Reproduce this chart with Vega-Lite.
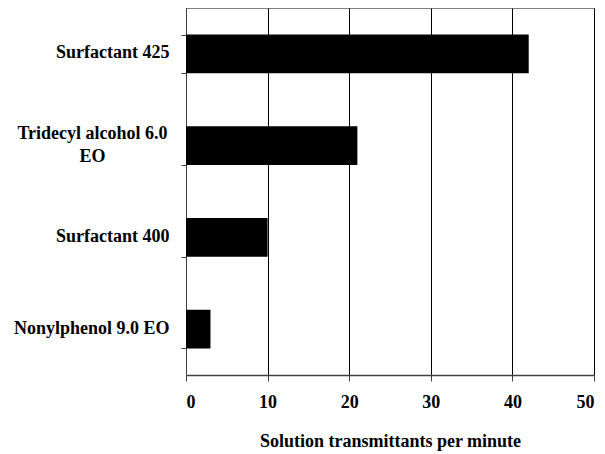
{
  "$schema": "https://vega.github.io/schema/vega-lite/v6.json",
  "width": 408,
  "height": 367,
  "autosize": "none",
  "padding": {"left": 186, "top": 8, "right": 11, "bottom": 79},
  "background": "white",
  "config": {
    "view": {"stroke": "#808080", "strokeWidth": 1},
    "font": "Liberation Serif"
  },
  "data": {
    "values": [
      {"surfactant": "Surfactant 425", "rate": 42},
      {"surfactant": "Tridecyl alcohol 6.0 EO", "rate": 21},
      {"surfactant": "Surfactant 400", "rate": 10},
      {"surfactant": "Nonylphenol 9.0 EO", "rate": 3}
    ]
  },
  "mark": {"type": "bar", "color": "black"},
  "encoding": {
    "y": {
      "field": "surfactant",
      "type": "nominal",
      "sort": null,
      "scale": {"paddingInner": 0.58, "paddingOuter": 0.29},
      "axis": {
        "title": null,
        "tickBand": "extent",
        "domainColor": "#404040",
        "tickColor": "#404040",
        "tickSize": 5,
        "labelFont": "Liberation Serif",
        "labelFontWeight": "bold",
        "labelFontSize": 18,
        "labelColor": "black",
        "labelLineHeight": 23,
        "labelLimit": 250,
        "labelExpr": "datum.value == 'Tridecyl alcohol 6.0 EO' ? ['Tridecyl alcohol 6.0', 'EO'] : datum.value",
        "labelAlign": {"condition": {"test": "datum.value == 'Tridecyl alcohol 6.0 EO'", "value": "center"}, "value": "right"},
        "labelPadding": {"condition": {"test": "datum.value == 'Tridecyl alcohol 6.0 EO'", "value": 89}, "value": 12},
        "labelOffset": {"condition": {"test": "datum.value == 'Tridecyl alcohol 6.0 EO'", "value": -12}, "value": -1}
      }
    },
    "x": {
      "field": "rate",
      "type": "quantitative",
      "scale": {"domain": [0, 50], "nice": false},
      "axis": {
        "title": "Solution transmittants per minute",
        "values": [0, 10, 20, 30, 40, 50],
        "grid": true,
        "gridColor": "black",
        "gridWidth": 1,
        "gridOpacity": 1,
        "domainColor": "#404040",
        "domainWidth": 1.5,
        "tickColor": "#404040",
        "tickSize": 6,
        "labelFont": "Liberation Serif",
        "labelFontWeight": "bold",
        "labelFontSize": 18,
        "labelColor": "black",
        "labelPadding": 12,
        "titleFont": "Liberation Serif",
        "titleFontWeight": "bold",
        "titleFontSize": 18,
        "titleColor": "black",
        "titlePadding": 21
      }
    }
  }
}
